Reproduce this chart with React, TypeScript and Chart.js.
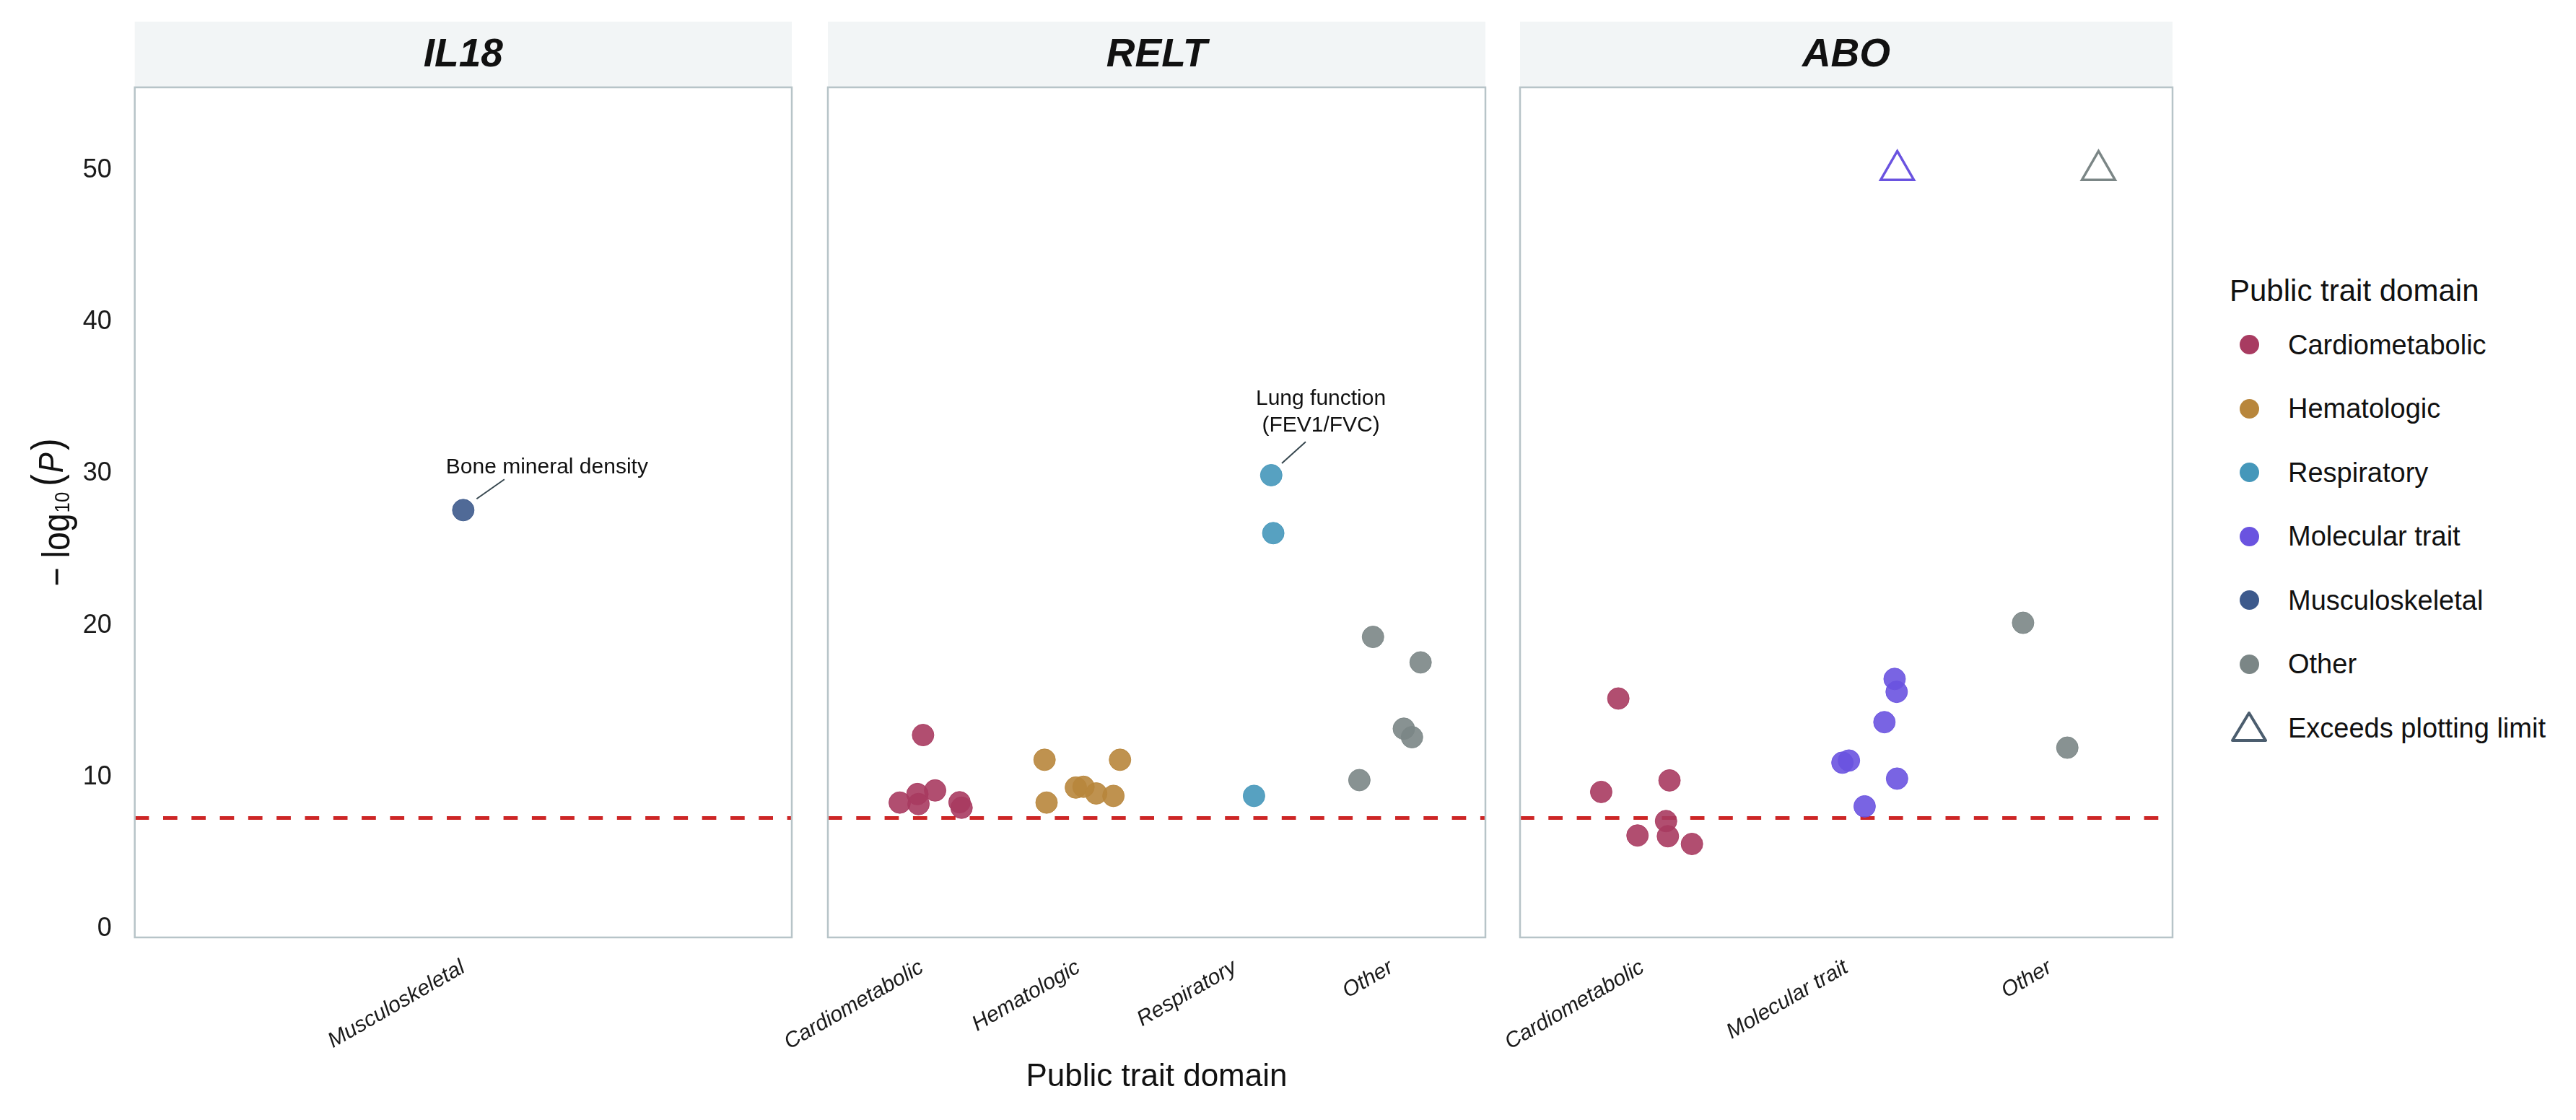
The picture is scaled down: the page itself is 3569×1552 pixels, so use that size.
import React, { useEffect, useRef } from "react";
import { Chart, registerables } from "chart.js";

Chart.register(...registerables);

const FONT = '"Liberation Sans", Arial, Helvetica, sans-serif';

// ---------- data ----------
const GENES = ["IL18", "RELT", "ABO"];
const DOMAINS = ["Cardiometabolic", "Hematologic", "Respiratory", "Molecular trait", "Musculoskeletal", "Other"];
const DOMAIN_COLORS = ["#A83B61", "#B8863C", "#4597BA", "#6A53E0", "#3D5A8C", "#7B8686"];
const EXCEEDS_LABEL = "Exceeds plotting limit";
const EXCEEDS_COLOR = "#4B5D6E";
const LEGEND_TITLE = "Public trait domain";
const X_TITLE = "Public trait domain";

const IL18_CATEGORIES = ["Musculoskeletal"];
const RELT_CATEGORIES = ["Cardiometabolic", "Hematologic", "Respiratory", "Other"];
const ABO_CATEGORIES = ["Cardiometabolic", "Molecular trait", "Other"];

const Y_TICKS = [0, 10, 20, 30, 40, 50];
const Y_MIN = -0.57;
const Y_MAX = 55.47;
const GENOME_WIDE_THRESHOLD = 7.3; // -log10(5e-8)

// x = category position (1-based, with the jitter), y = -log10(P)
const IL18_MUSC_X = [1.0];
const IL18_MUSC_Y = [27.6];

const RELT_CARDIO_X = [1.008, 0.859, 0.972, 0.979, 1.085, 1.241, 1.254];
const RELT_CARDIO_Y = [12.77, 8.32, 8.88, 8.22, 9.12, 8.34, 7.98];
const RELT_HEMA_X = [1.784, 2.266, 1.797, 1.984, 2.033, 2.114, 2.224];
const RELT_HEMA_Y = [11.14, 11.14, 8.32, 9.31, 9.36, 8.92, 8.76];
const RELT_RESP_X = [3.122, 3.232, 3.245];
const RELT_RESP_Y = [8.76, 29.9, 26.08];
const RELT_OTHER_X = [3.882, 4.186, 4.079, 4.131, 3.795];
const RELT_OTHER_Y = [19.24, 17.56, 13.19, 12.63, 9.8];

const ABO_CARDIO_X = [0.882, 0.798, 1.133, 1.116, 0.976, 1.125, 1.243];
const ABO_CARDIO_Y = [15.18, 9.02, 9.78, 7.1, 6.15, 6.1, 5.59];
const ABO_MOLEC_X = [2.237, 2.247, 2.187, 1.981, 2.013, 2.249, 2.09];
const ABO_MOLEC_Y = [16.47, 15.62, 13.62, 10.95, 11.09, 9.9, 8.07];
const ABO_OTHER_X = [2.867, 3.084];
const ABO_OTHER_Y = [20.17, 11.94];
const ABO_EXCEEDS_X = [2.25, 3.237];
const ABO_EXCEEDS_Y = [50, 50];
const ABO_EXCEEDS_DOMAIN = ["Molecular trait", "Other"];

const IL18_ANNOTATION = ["Bone mineral density"];
const RELT_ANNOTATION = ["Lung function", "(FEV1/FVC)"];

// y-axis title pieces: "− log", subscript "10", "(", italic "P", ")"
const Y_TITLE_PARTS = ["\u2212", "log", "10", "(", "P", ")"];

// ---------- helpers ----------
function colorOf(domain: string) {
  return DOMAIN_COLORS[DOMAINS.indexOf(domain)];
}
function rgba(hex: string, a: number) {
  const n = parseInt(hex.slice(1), 16);
  return `rgba(${(n >> 16) & 255},${(n >> 8) & 255},${n & 255},${a})`;
}

const STRIP_TOP = 30;
const PLOT_TOP = 121;
const PLOT_BOTTOM = 1299;
const FIG_H = 1552;

const PANELS = [
  {
    gene: GENES[0],
    categories: IL18_CATEGORIES,
    series: [{ domain: "Musculoskeletal", x: IL18_MUSC_X, y: IL18_MUSC_Y }],
    exceeds: null as any,
    annotation: { datasetIndex: 0, index: 0, lines: IL18_ANNOTATION, lineFrom: [18.5, -15.6], lineTo: [57, -42.6], textAt: [116, -59.6], lineGap: 0 },
    layout: { canvasLeft: 0, canvasWidth: 1120, plotLeft: 186.7, plotRight: 1097 },
  },
  {
    gene: GENES[1],
    categories: RELT_CATEGORIES,
    series: [
      { domain: "Cardiometabolic", x: RELT_CARDIO_X, y: RELT_CARDIO_Y },
      { domain: "Hematologic", x: RELT_HEMA_X, y: RELT_HEMA_Y },
      { domain: "Respiratory", x: RELT_RESP_X, y: RELT_RESP_Y },
      { domain: "Other", x: RELT_OTHER_X, y: RELT_OTHER_Y },
    ],
    exceeds: null as any,
    annotation: { datasetIndex: 2, index: 1, lines: RELT_ANNOTATION, lineFrom: [14.7, -16.4], lineTo: [47.7, -46.2], textAt: [68.8, -105.6], lineGap: 36.4 },
    layout: { canvasLeft: 1040, canvasWidth: 1040, plotLeft: 1147, plotRight: 2058 },
  },
  {
    gene: GENES[2],
    categories: ABO_CATEGORIES,
    series: [
      { domain: "Cardiometabolic", x: ABO_CARDIO_X, y: ABO_CARDIO_Y },
      { domain: "Molecular trait", x: ABO_MOLEC_X, y: ABO_MOLEC_Y },
      { domain: "Other", x: ABO_OTHER_X, y: ABO_OTHER_Y },
    ],
    exceeds: { x: ABO_EXCEEDS_X, y: ABO_EXCEEDS_Y, domains: ABO_EXCEEDS_DOMAIN },
    annotation: null as any,
    layout: { canvasLeft: 1990, canvasWidth: 1050, plotLeft: 2106, plotRight: 3018 },
  },
];

const decorPlugin = {
  id: "decor",
  beforeDatasetsDraw(chart: any, _args: any, opts: any) {
    const { ctx, chartArea: a, scales } = chart;
    ctx.save();
    ctx.fillStyle = "#F2F5F6";
    ctx.fillRect(a.left, STRIP_TOP, a.right - a.left, a.top - STRIP_TOP);
    ctx.fillStyle = "#111111";
    ctx.font = `italic bold 55px ${FONT}`;
    ctx.textAlign = "center";
    ctx.textBaseline = "middle";
    ctx.fillText(opts.title, (a.left + a.right) / 2, (STRIP_TOP + a.top) / 2 + 1);
    const y = scales.y.getPixelForValue(opts.threshold);
    ctx.strokeStyle = "#CD2626";
    ctx.lineWidth = 5;
    ctx.setLineDash([19.7, 19.6]);
    ctx.beginPath();
    ctx.moveTo(a.left, y);
    ctx.lineTo(a.right, y);
    ctx.stroke();
    ctx.restore();
  },
  afterDatasetsDraw(chart: any, _args: any, opts: any) {
    const { ctx, chartArea: a } = chart;
    ctx.save();
    ctx.strokeStyle = "#B7C4C8";
    ctx.lineWidth = 2.5;
    ctx.strokeRect(a.left, a.top, a.right - a.left, a.bottom - a.top);
    const ann = opts.annotation;
    if (ann) {
      const el = chart.getDatasetMeta(ann.datasetIndex).data[ann.index];
      const px = el.x;
      const py = el.y;
      ctx.strokeStyle = "#37474F";
      ctx.lineWidth = 2;
      ctx.beginPath();
      ctx.moveTo(px + ann.lineFrom[0], py + ann.lineFrom[1]);
      ctx.lineTo(px + ann.lineTo[0], py + ann.lineTo[1]);
      ctx.stroke();
      ctx.fillStyle = "#111111";
      ctx.font = `30px ${FONT}`;
      ctx.textAlign = "center";
      ctx.textBaseline = "middle";
      ann.lines.forEach((t: string, i: number) => {
        ctx.fillText(t, px + ann.textAt[0], py + ann.textAt[1] + i * ann.lineGap);
      });
    }
    if (opts.yTitle) {
      const cy = (a.top + a.bottom) / 2;
      ctx.translate(opts.yTitleX, cy);
      ctx.rotate(-Math.PI / 2);
      ctx.fillStyle = "#111111";
      ctx.textAlign = "left";
      ctx.textBaseline = "alphabetic";
      const sx = 0.86;
      const styles = [
        { f: `52px ${FONT}`, dy: 0, gapBefore: 0 },
        { f: `54px ${FONT}`, dy: 0, gapBefore: 13 },
        { f: `30px ${FONT}`, dy: 0, gapBefore: 1 },
        { f: `58px ${FONT}`, dy: -12, gapBefore: 8 },
        { f: `italic 49px ${FONT}`, dy: -9, gapBefore: 2 },
        { f: `58px ${FONT}`, dy: -12, gapBefore: 3 },
      ];
      let total = 0;
      const widths = Y_TITLE_PARTS.map((t, i) => {
        ctx.font = styles[i].f;
        const w = ctx.measureText(t).width * sx;
        total += w + styles[i].gapBefore;
        return w;
      });
      let x = -total / 2;
      Y_TITLE_PARTS.forEach((t, i) => {
        x += styles[i].gapBefore;
        ctx.save();
        ctx.font = styles[i].f;
        ctx.translate(x, styles[i].dy);
        ctx.scale(sx, 1);
        ctx.fillText(t, 0, 0);
        ctx.restore();
        x += widths[i];
      });
    }
    ctx.restore();
  },
};

function makeConfig(p: any, idx: number): any {
  const datasets: any[] = p.series.map((s: any) => ({
    label: s.domain,
    data: s.x.map((x: number, i: number) => ({ x, y: s.y[i] })),
    pointStyle: "circle",
    pointRadius: 15,
    pointHoverRadius: 15,
    pointBackgroundColor: rgba(colorOf(s.domain), 0.9),
    pointBorderColor: rgba(colorOf(s.domain), 0.9),
    pointBorderWidth: 1,
    showLine: false,
  }));
  if (p.exceeds) {
    datasets.push({
      label: EXCEEDS_LABEL,
      data: p.exceeds.x.map((x: number, i: number) => ({ x, y: p.exceeds.y[i] })),
      pointStyle: "triangle",
      pointRadius: 26.5,
      pointHoverRadius: 26.5,
      pointBackgroundColor: "rgba(0,0,0,0)",
      pointBorderColor: p.exceeds.domains.map((d: string) => colorOf(d)),
      pointBorderWidth: 3.5,
      showLine: false,
    });
  }
  const cats: string[] = p.categories;
  const L = p.layout;
  const showY = idx === 0;
  return {
    type: "scatter",
    data: { datasets },
    plugins: [decorPlugin],
    options: {
      responsive: false,
      animation: false,
      devicePixelRatio: 1,
      events: [],
      layout: {
        padding: {
          left: showY ? 0 : L.plotLeft - L.canvasLeft,
          right: L.canvasLeft + L.canvasWidth - L.plotRight,
          top: PLOT_TOP,
          bottom: 0,
        },
      },
      plugins: {
        legend: { display: false },
        tooltip: { enabled: false },
        decor: {
          title: p.gene,
          threshold: GENOME_WIDE_THRESHOLD,
          annotation: p.annotation,
          yTitle: showY,
          yTitleX: 96,
        },
      },
      scales: {
        x: {
          type: "linear",
          bounds: "data",
          min: 0.4,
          max: cats.length + 0.6,
          afterBuildTicks: (s: any) => {
            s.ticks = cats.map((_, i) => ({ value: i + 1 }));
          },
          afterFit: (s: any) => {
            s.height = FIG_H - PLOT_BOTTOM;
            s.paddingLeft = 0;
            s.paddingRight = 0;
          },
          ticks: {
            autoSkip: false,
            maxRotation: 30,
            minRotation: 30,
            padding: 16,
            color: "#1a1a1a",
            font: { family: FONT, size: 30, style: "italic" },
            callback: (v: number) => cats[Math.round(v) - 1],
          },
          grid: { display: false },
          border: { display: false },
          title: {
            display: idx === 1,
            text: X_TITLE,
            color: "#111111",
            font: { family: FONT, size: 44 },
            padding: { top: 0, bottom: 33 },
          },
        },
        y: {
          type: "linear",
          display: showY,
          bounds: "data",
          min: Y_MIN,
          max: Y_MAX,
          afterBuildTicks: (s: any) => {
            s.ticks = Y_TICKS.map((v) => ({ value: v }));
          },
          afterFit: (s: any) => {
            s.width = showY ? L.plotLeft - L.canvasLeft : 0;
            s.paddingTop = 0;
            s.paddingBottom = 0;
          },
          ticks: {
            padding: 24,
            color: "#1a1a1a",
            font: { family: FONT, size: 36 },
          },
          grid: { display: false },
          border: { display: false },
        },
      },
    },
  };
}

const LEGEND_ITEMS = [...DOMAINS, EXCEEDS_LABEL];

export default function App() {
  const r0 = useRef<HTMLCanvasElement>(null);
  const r1 = useRef<HTMLCanvasElement>(null);
  const r2 = useRef<HTMLCanvasElement>(null);
  const refs = [r0, r1, r2];

  useEffect(() => {
    const charts = PANELS.map((p, i) => new Chart(refs[i].current as HTMLCanvasElement, makeConfig(p, i)));
    return () => charts.forEach((c) => c.destroy());
  }, []);

  return (
    <div style={{ position: "absolute", left: 0, top: 0, width: 3569, height: FIG_H, background: "#ffffff", overflow: "hidden" }}>
      {PANELS.map((p, i) => (
        <canvas
          key={p.gene}
          ref={refs[i]}
          width={p.layout.canvasWidth}
          height={FIG_H}
          style={{ position: "absolute", left: p.layout.canvasLeft, top: 0, width: p.layout.canvasWidth, height: FIG_H }}
        />
      ))}
      <div
        style={{
          position: "absolute",
          left: 3089,
          top: 402.5,
          transform: "translateY(-50%)",
          font: `42px ${FONT}`,
          lineHeight: 1,
          color: "#111111",
          whiteSpace: "nowrap",
        }}
      >
        {LEGEND_TITLE}
      </div>
      {LEGEND_ITEMS.map((label, i) => {
        const cy = 477.5 + i * 88.5;
        const isTri = label === EXCEEDS_LABEL;
        return (
          <React.Fragment key={label}>
            {isTri ? (
              <svg style={{ position: "absolute", left: 3090, top: cy - 25 }} width={54} height={46}>
                <polygon points="26,4 49,42 3,42" fill="none" stroke={EXCEEDS_COLOR} strokeWidth={4} strokeLinejoin="round" />
              </svg>
            ) : (
              <div
                style={{
                  position: "absolute",
                  left: 3116 - 13.5,
                  top: cy - 13.5,
                  width: 27,
                  height: 27,
                  borderRadius: "50%",
                  background: colorOf(label),
                }}
              />
            )}
            <div
              style={{
                position: "absolute",
                left: 3170,
                top: cy,
                transform: "translateY(-50%)",
                font: `38px ${FONT}`,
                lineHeight: 1,
                color: "#111111",
                whiteSpace: "nowrap",
              }}
            >
              {label}
            </div>
          </React.Fragment>
        );
      })}
    </div>
  );
}
